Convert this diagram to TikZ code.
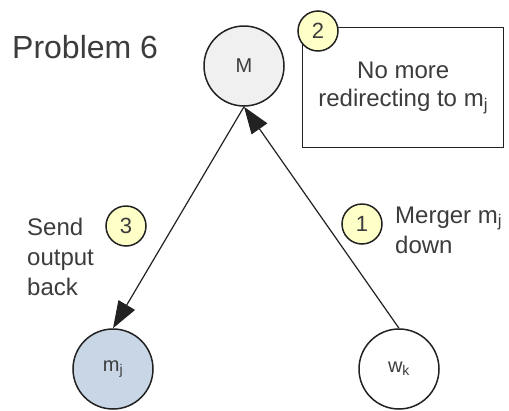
\documentclass[tikz,border=0pt]{standalone}
\usepackage{fontspec}
\setmainfont{Liberation Sans}
\usetikzlibrary{arrows.meta}
\definecolor{ink}{HTML}{222222}
\definecolor{txt}{HTML}{3C3C3C}
\definecolor{mfill}{HTML}{F0F0F0}
\definecolor{mjfill}{HTML}{C9D6E6}
\definecolor{badgefill}{HTML}{FFFFC8}
\begin{document}
\begin{tikzpicture}[x=1pt,y=-1pt,
  state/.style={circle, draw=ink, line width=1.5pt, minimum size=80pt, inner sep=0pt,
    text=txt, font=\fontsize{20}{22}\selectfont},
  badge/.style={circle, draw=ink, line width=1.5pt, fill=badgefill, minimum size=40pt,
    inner sep=0pt, text=txt, font=\fontsize{22}{24}\selectfont},
  label/.style={text=txt, font=\fontsize{24}{30}\selectfont, inner sep=0pt, align=left},
  flow/.style={draw=ink, line width=1.2pt, -{Triangle[length=27pt,width=19pt]}},
]
\useasboundingbox[fill=white] (0,0) rectangle (509,410);

% title
\node[label, font=\fontsize{32}{36}\selectfont, anchor=base west] (title) at (12,58) {Problem 6};

% state circles
\node[state, fill=mfill]  (M)  at (244,66)  {M};
\node[state, fill=mjfill] (mj) at (113,369) {m\textsubscript{j}};
\node[state, fill=white]  (wk) at (399,369) {w\textsubscript{k}};

% messages
\draw[flow] (wk.north) -- (M.south);
\draw[flow] (M.south) -- (mj.north);

% note box
\node[draw=ink, line width=1.4pt, minimum width=201pt, minimum height=120pt, anchor=north west,
  text=txt, font=\fontsize{24}{28}\selectfont, align=center] (note) at (302,27)
  {No more\\redirecting to m\textsubscript{j}};

% step badges
\node[badge] (b2) at (318,31)  {2};
\node[badge] (b1) at (362,224) {1};
\node[badge] (b3) at (126,226) {3};

% step labels (base anchor sits on the last line)
\node[label, anchor=base west] (l3) at (27,295) {Send\\output\\back};
\node[label, anchor=base west] (l1) at (395,253) {Merger m\textsubscript{j}\\down};
\end{tikzpicture}
\end{document}
